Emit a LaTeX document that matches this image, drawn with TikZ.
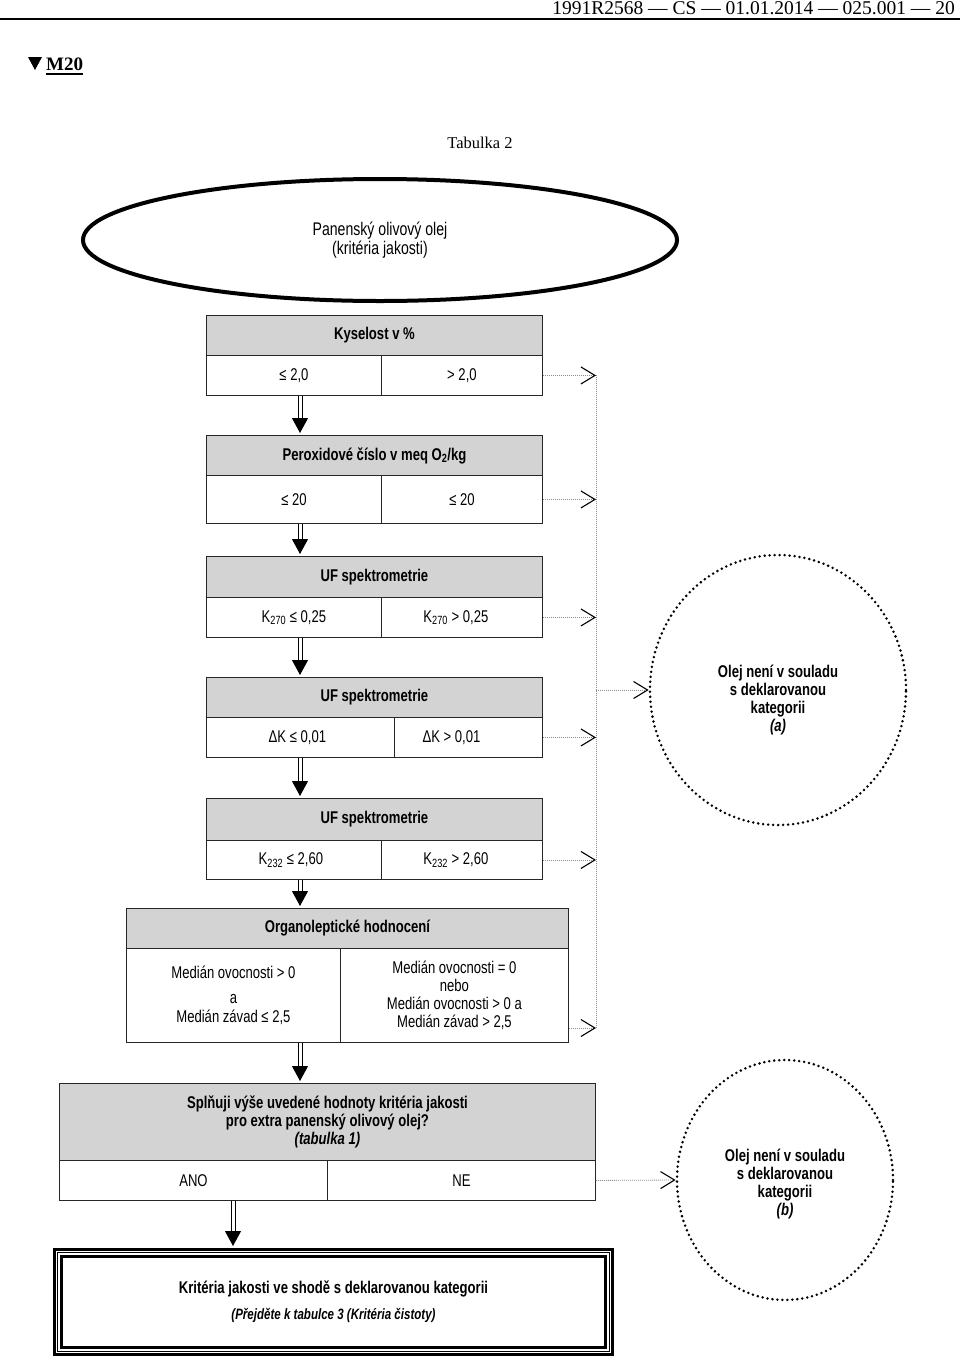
\documentclass[tikz,border=0pt]{standalone}
\usepackage{fontspec}
\setmainfont[FakeStretch=0.77]{Liberation Sans}
\newfontfamily\serifhdr{Liberation Serif}
\usetikzlibrary{arrows.meta,shapes.geometric}
\definecolor{hgray}{RGB}{211,211,211}
\definecolor{dotgray}{RGB}{140,140,140}
\newcommand{\cellfont}{\fontsize{17}{18}\selectfont}
\tikzset{
  base/.style={font=\cellfont, inner sep=0pt, anchor=north west, draw=black!85, line width=0.9pt, align=center},
  hdr/.style={base, fill=hgray, font=\cellfont\bfseries},
  cell/.style={base, fill=white},
  dshaft/.style={double=white, double distance=3pt, line width=1pt, shorten >=2pt, -{Triangle[length=15pt,width=16pt]}},
  dotconn/.style={draw=dotgray, line width=0.8pt, dash pattern=on 1pt off 1pt, -{Straight Barb[length=14pt,width=17pt,color=black,line width=1.1pt]}},
  dotbus/.style={draw=dotgray, line width=0.8pt, dash pattern=on 1pt off 1pt},
  dotcirc/.style={ellipse, draw, line width=2.8pt, dash pattern=on 0pt off 5pt, line cap=round, inner sep=0pt},
  circtext/.style={font=\fontsize{17}{18.3}\selectfont\bfseries, align=center, inner sep=0pt},
}
\begin{document}
\begin{tikzpicture}[x=1pt,y=-1pt]
\path[use as bounding box, fill=white] (0,0) rectangle (960,1358);

% page header
\node[font=\serifhdr\fontsize{19.5}{20}\selectfont, anchor=base east, inner sep=0pt] (doc) at (955,14) {1991R2568 — CS — 01.01.2014 — 025.001 — 20};
\draw[line width=2pt] (0,18.5) -- (960,18.5);
\fill (28,57) -- (42,57) -- (35,70) -- cycle;
\node[font=\serifhdr\bfseries\fontsize{19}{20}\selectfont, anchor=base west, inner sep=0pt] (m20) at (46,70) {M20};
\draw[line width=1.6pt] (m20.base west) ++(0,4) -- ([yshift=-4pt]m20.base east);
\node[font=\serifhdr\fontsize{16.5}{18}\selectfont, inner sep=0pt] (tab) at (480,143) {Tabulka 2};

% top ellipse
\node[ellipse, draw, line width=4pt, minimum width=594pt, minimum height=122pt, font=\fontsize{18.3}{19}\selectfont, align=center, inner sep=0pt] (top) at (380,240) {Panenský olivový olej\\(kritéria jakosti)};

% table 1
\node[hdr, minimum width=336pt, minimum height=40pt] (h1) at (206,315) {Kyselost v \%};
\node[cell, minimum width=175pt, minimum height=40pt] (l1) at (206,355) {≤ 2,0};
\node[cell, minimum width=161pt, minimum height=40pt] (r1) at (381,355) {> 2,0};
% table 2
\node[hdr, minimum width=336pt, minimum height=40pt] (h2) at (206,435) {Peroxidové číslo v meq O\textsubscript{2}/kg};
\node[cell, minimum width=175pt, minimum height=48pt] (l2) at (206,475) {≤ 20};
\node[cell, minimum width=161pt, minimum height=48pt] (r2) at (381,475) {≤ 20};
% table 3
\node[hdr, minimum width=336pt, minimum height=41pt] (h3) at (206,556) {UF spektrometrie};
\node[cell, minimum width=175pt, minimum height=40pt] (l3) at (206,597) {K\textsubscript{270} ≤ 0,25};
\node[cell, minimum width=161pt, minimum height=40pt] (r3) at (381,597) {K\textsubscript{270} > 0,25\hspace*{12pt}};
% table 4
\node[hdr, minimum width=336pt, minimum height=40pt] (h4) at (206,677) {UF spektrometrie};
\node[cell, minimum width=188pt, minimum height=40pt] (l4) at (206,717) {\hspace*{-6pt}ΔK ≤ 0,01};
\node[cell, minimum width=148pt, minimum height=40pt] (r4) at (394,717) {ΔK > 0,01\hspace*{34pt}};
% table 5
\node[hdr, minimum width=336pt, minimum height=42pt] (h5) at (206,798) {UF spektrometrie};
\node[cell, minimum width=175pt, minimum height=39pt] (l5) at (206,840) {\hspace*{-6pt}K\textsubscript{232} ≤ 2,60};
\node[cell, minimum width=161pt, minimum height=39pt] (r5) at (381,840) {K\textsubscript{232} > 2,60\hspace*{12pt}};
% table 6
\node[hdr, minimum width=442pt, minimum height=40pt] (h6) at (126,908) {Organoleptické hodnocení};
\node[cell, minimum width=214pt, minimum height=94pt] (l6) at (126,948) {Medián ovocnosti > 0\\[7pt]a\\[1pt]Medián závad ≤ 2,5};
\node[cell, minimum width=228pt, minimum height=94pt] (r6) at (340,948) {Medián ovocnosti = 0\\nebo\\Medián ovocnosti > 0 a\\Medián závad > 2,5};
% table 7
\node[hdr, minimum width=536pt, minimum height=77pt] (h7) at (59,1083) {Splňuji výše uvedené hodnoty kritéria jakosti\\pro extra panenský olivový olej?\\\textit{(tabulka 1)}};
\node[cell, minimum width=268pt, minimum height=40pt] (l7) at (59,1160) {ANO};
\node[cell, minimum width=268pt, minimum height=40pt] (r7) at (327,1160) {NE};

% final box
\node[draw, line width=3pt, minimum width=558pt, minimum height=105pt, inner sep=0pt, align=center] (fin) at (333.5,1302)
  {{\fontsize{17}{18}\selectfont\bfseries Kritéria jakosti ve shodě s deklarovanou kategorii}\\[10pt]
   {\fontsize{15}{14}\selectfont\bfseries\itshape (Přejděte k tabulce 3 (Kritéria čistoty)}};
\draw[line width=1pt] ([shift={(4.5,4.5)}]fin.north west) rectangle ([shift={(-4.5,-4.5)}]fin.south east);
\draw[line width=2.2pt] ([shift={(8.5,8.5)}]fin.north west) rectangle ([shift={(-8.5,-8.5)}]fin.south east);

% result circles
\node[dotcirc, minimum width=256pt, minimum height=270pt,
      label={[circtext, yshift=-10pt]center:Olej není v souladu\\s deklarovanou\\kategorii\\\textit{(a)}}] (ca) at (778,690) {};
\node[dotcirc, minimum width=216pt, minimum height=240pt,
      label={[circtext, yshift=-4pt]center:Olej není v souladu\\s deklarovanou\\kategorii\\\textit{(b)}}] (cb) at (785,1180) {};

% main flow arrows
\coordinate (ax) at (300,0);
\coordinate (ax2) at (233,0);
\draw[dshaft] (l1.south -| ax) -- (h2.north -| ax);
\draw[dshaft] (l2.south -| ax) -- (h3.north -| ax);
\draw[dshaft] (l3.south -| ax) -- (h4.north -| ax);
\draw[dshaft] (l4.south -| ax) -- (h5.north -| ax);
\draw[dshaft] (l5.south -| ax) -- (h6.north -| ax);
\draw[dshaft] (l6.south -| ax) -- (h7.north -| ax);
\draw[dshaft] (l7.south -| ax2) -- (fin.north -| ax2);

% rejection connectors
\coordinate (bus) at (596,0);
\coordinate (b6) at (596,1028);
\draw[dotbus] (r1.east -| bus) -- (b6);
\draw[dotconn] (r1.east) -- (r1.east -| bus);
\draw[dotconn] (r2.east) -- (r2.east -| bus);
\draw[dotconn] (r3.east) -- (r3.east -| bus);
\draw[dotconn] (r4.east) -- (r4.east -| bus);
\draw[dotconn] (r5.east) -- (r5.east -| bus);
\draw[dotconn] (r6.east |- b6) -- (b6);
\draw[dotconn] (bus |- ca.west) -- (ca.west);
\draw[dotconn] (r7.east) -- (cb.west);
\end{tikzpicture}
\end{document}
